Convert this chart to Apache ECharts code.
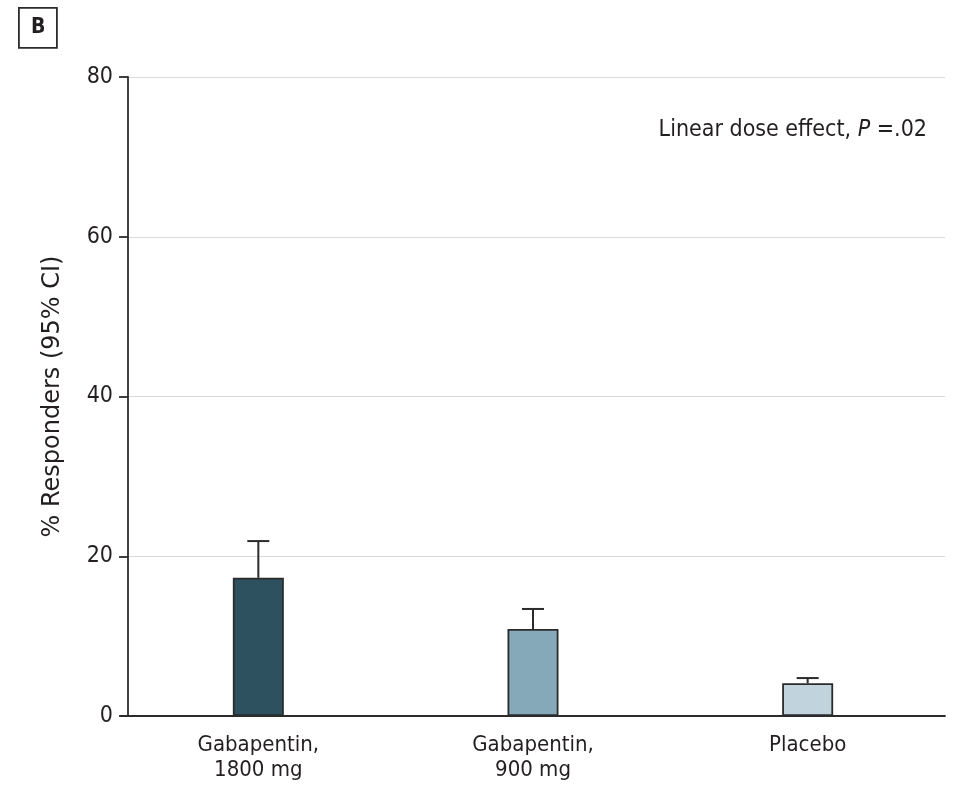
<!DOCTYPE html>
<html>
<head>
<meta charset="utf-8">
<script src="https://cdn.jsdelivr.net/npm/echarts@6/dist/echarts.min.js"></script>
<style>
html,body{margin:0;padding:0;background:#fff;}
#chart{width:953px;height:787px;}
</style>
</head>
<body>
<div id="chart"></div>
<script>
const categories = ['Gabapentin,\n1800 mg', 'Gabapentin,\n900 mg', 'Placebo'];
const responders = [17.3, 10.9, 4.1];
const upperCI = [21.9, 13.4, 4.75];
const barColors = ['#2e5160', '#86a9b9', '#c1d3dd'];
const yTicks = [0, 20, 40, 60, 80];

function pickFont(list) {
  const c = document.createElement('canvas').getContext('2d');
  const t = 'Gabapentin, 1800 mg WwIi%';
  c.font = '40px monospace';
  const base = c.measureText(t).width;
  for (const f of list) {
    c.font = "40px '" + f + "', monospace";
    if (Math.abs(c.measureText(t).width - base) > 0.5) return "'" + f + "'";
  }
  return 'sans-serif';
}
const FONT = pickFont(['DejaVu Sans Condensed', 'Liberation Sans Narrow', 'DejaVu Sans']) + ",sans-serif";
const TITLE_FONT = pickFont(['DejaVu Sans', 'Open Sans']) + ",sans-serif";
const TXT = '#231f20';

const chart = echarts.init(document.getElementById('chart'));

const option = {
  backgroundColor: '#fff',
  animation: false,
  grid: { left: 121, right: 8, top: 77, bottom: 71, containLabel: false },
  xAxis: {
    type: 'category',
    data: categories,
    axisLine: { show: true, lineStyle: { color: '#2b2b2b', width: 1.8 } },
    axisTick: { show: false },
    axisLabel: { color: TXT, fontSize: 22, fontFamily: FONT, lineHeight: 25, margin: 17 }
  },
  yAxis: {
    type: 'value',
    offset: -7,
    min: yTicks[0],
    max: yTicks[yTicks.length - 1],
    interval: 20,
    name: '% Responders (95% CI)',
    nameLocation: 'middle',
    nameGap: 63,
    nameRotate: 90,
    nameTextStyle: { color: TXT, fontSize: 24, fontFamily: TITLE_FONT },
    axisLine: { show: true, lineStyle: { color: '#2b2b2b', width: 1.8 } },
    axisTick: { show: true, inside: false, length: 9, lineStyle: { color: '#2b2b2b', width: 1.8 } },
    axisLabel: { color: TXT, fontSize: 23, fontFamily: FONT, margin: 15 },
    splitLine: { show: true, lineStyle: { color: '#dadada', width: 1 } }
  },
  series: [
    {
      type: 'custom',
      z: 1,
      renderItem: function (params, api) {
        const i = api.value(0);
        const top = api.coord([i, api.value(2)]);
        const base = api.coord([i, api.value(1)]);
        const half = 11;
        return {
          type: 'group',
          children: [
            { type: 'line', shape: { x1: top[0], y1: top[1], x2: base[0], y2: base[1] }, style: { stroke: '#2b2b2b', lineWidth: 2 } },
            { type: 'line', shape: { x1: top[0] - half, y1: top[1], x2: top[0] + half, y2: top[1] }, style: { stroke: '#2b2b2b', lineWidth: 2 } }
          ]
        };
      },
      data: responders.map((v, i) => [i, v, upperCI[i]])
    },
    {
      type: 'bar',
      z: 3,
      barWidth: 51,
      data: responders.map((v, i) => ({ value: v, itemStyle: { color: barColors[i], borderColor: '#2b2b2b', borderWidth: 1.8 } }))
    }
  ],
  graphic: [
    {
      type: 'rect', left: 18, top: 7,
      shape: { width: 38, height: 40 },
      style: { fill: '#fff', stroke: '#2b2b2b', lineWidth: 1.8 }
    },
    {
      type: 'text', left: 31, top: 17,
      style: { text: 'B', font: "bold 21px " + FONT, fill: TXT }
    },
    {
      type: 'text', right: 26, top: 119,
      style: {
        text: '{n|Linear dose effect, }{i|P}{n| =.02}',
        rich: {
          n: { fontSize: 23, fontFamily: FONT, fill: TXT },
          i: { fontSize: 23, fontFamily: FONT, fontStyle: 'italic', fill: TXT }
        }
      }
    }
  ]
};
chart.setOption(option);
</script>
</body>
</html>
